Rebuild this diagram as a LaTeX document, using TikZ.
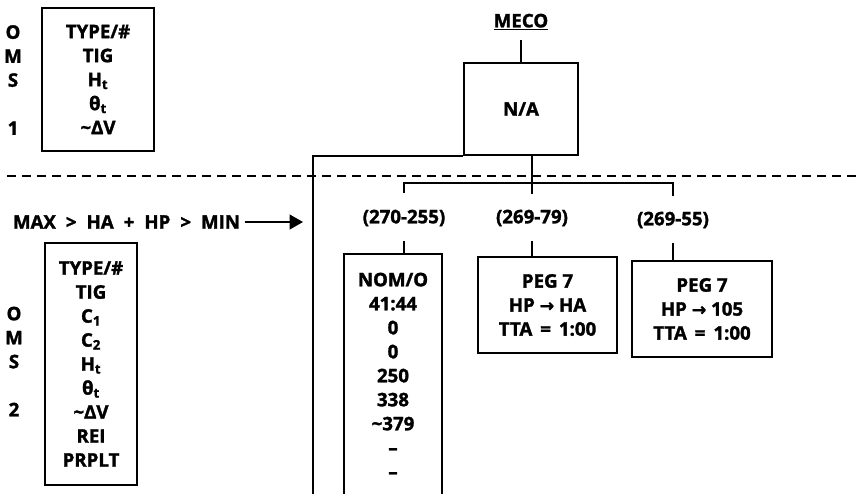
\documentclass[tikz,border=0pt]{standalone}
\usepackage{fontspec}
\setmainfont{Open Sans}[BoldFeatures={FakeBold=1.6}]
\newfontfamily\symfont{DejaVu Sans}[BoldFeatures={FakeBold=1.6}]
\usetikzlibrary{arrows.meta}
\tikzstyle{box} = [draw, line width=1.4pt, align=center, inner sep=0pt]
\tikzstyle{lbl} = [align=center, inner sep=2pt]
\tikzstyle{wire} = [line width=1.4pt]
\newcommand{\tsub}{\textsubscript{t}}
\newcommand{\arw}{{\symfont\bfseries\fontsize{13}{18}\selectfont →}}

\begin{document}
\begin{tikzpicture}[x=0.75pt,y=-0.75pt,font=\fontsize{14}{18}\selectfont\bfseries]
\useasboundingbox (0,0) rectangle (860,493);

% OMS 1
\node[lbl] (oms1side) at (13,80) {O\\M\\S\\[18pt]1};
\node[box, minimum width=84pt, minimum height=107.25pt] (oms1) at (98,79.5)
    {TYPE/\#\\TIG\\H\tsub\\θ\tsub\\\textasciitilde ΔV};

% MECO
\node (meco) at (521,22) {\underline{MECO}};
\node[box, minimum width=85.5pt, minimum height=69pt] (na) at (521,109) {N/A};
\draw[wire, shorten <=4pt] (meco) -- (na);

\draw[wire, dash pattern=on 6.75pt off 4.5pt] (7,176) -- (860,176);

% branches
\coordinate (drop) at (313,500);
\draw[wire] (na.south west) -| (drop);
\node[lbl] (lbl1) at (404,218) {(270-255)};
\node[lbl] (lbl2) at (532,218) {(269-79)};
\node[lbl] (lbl3) at (673,220) {(269-55)};
\coordinate (fork) at (532,183);
\draw[wire, shorten >=10pt] (na.south -| fork) -- (fork |- lbl2.north);
\draw[wire, shorten >=10pt] (fork) -| (lbl1.north);
\draw[wire, shorten >=10pt] (fork) -| (lbl3.north);

\node[box, minimum width=73.5pt, minimum height=182.25pt] (nomo) at (393,375.5)
    {NOM/O\\41:44\\0\\0\\250\\338\\\textasciitilde379\\\textendash\\\textendash};
\node[box, minimum width=104.25pt, minimum height=72pt] (peg1) at (547.5,305)
    {PEG 7\\HP \arw\ HA\\TTA \,=\, 1:00};
\node[box, minimum width=105pt, minimum height=72pt] (peg2) at (702,309)
    {PEG 7\\HP \arw\ 105\\TTA \,=\, 1:00};
\draw[wire, shorten <=9pt] (lbl1.south) -- (lbl1.south |- nomo.north);
\draw[wire, shorten <=9pt] (lbl2.south) -- (lbl2.south |- peg1.north);
\draw[wire, shorten <=9pt] (lbl3.south) -- (lbl3.south |- peg2.north);

% OMS 2
\node (maxmin) at (126.5,222) {\spaceskip=7.5pt MAX > HA + HP > MIN};
\coordinate (arrtip) at (303,222);
\draw[wire, -{Triangle[length=10pt,width=11pt]}] (maxmin) -- (arrtip);
\node[lbl] (oms2side) at (14,361.5) {O\\M\\S\\[18pt]2};
\node[box, minimum width=69pt, minimum height=181.5pt] (oms2) at (91,364)
    {TYPE/\#\\TIG\\C\textsubscript{1}\\C\textsubscript{2}\\H\tsub\\θ\tsub\\\textasciitilde ΔV\\REI\\PRPLT};
\end{tikzpicture}
\end{document}
